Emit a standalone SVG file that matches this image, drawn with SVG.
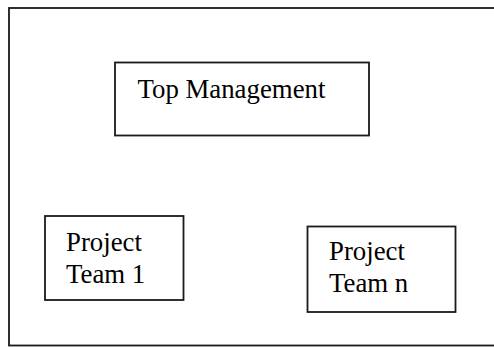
<svg xmlns="http://www.w3.org/2000/svg" width="494" height="347" viewBox="0 0 494 347">
<style>
.box{fill:#ffffff;stroke:#1a1a1a;stroke-width:1.8}
.lbl{font-family:"Liberation Serif","Times New Roman",serif;font-size:26.8px;fill:#000000}
</style>
<rect x="0" y="0" width="494" height="347" fill="#ffffff"/>
<g id="frame">
<rect class="box" x="9" y="8" width="492" height="337.5"/>
</g>
<g id="connectors"></g>
<g id="top-management">
<rect class="box" x="115" y="62.5" width="254" height="73"/>
<text class="lbl" x="137.5" y="97.5">Top Management</text>
</g>
<g id="project-team-1">
<rect class="box" x="45" y="216" width="138.5" height="84"/>
<text class="lbl" x="66" y="251">Project</text>
<text class="lbl" x="66" y="282.5">Team 1</text>
</g>
<g id="project-team-n">
<rect class="box" x="307.5" y="226.5" width="148" height="85.5"/>
<text class="lbl" x="329" y="259.5">Project</text>
<text class="lbl" x="329" y="291.5">Team n</text>
</g>
</svg>
